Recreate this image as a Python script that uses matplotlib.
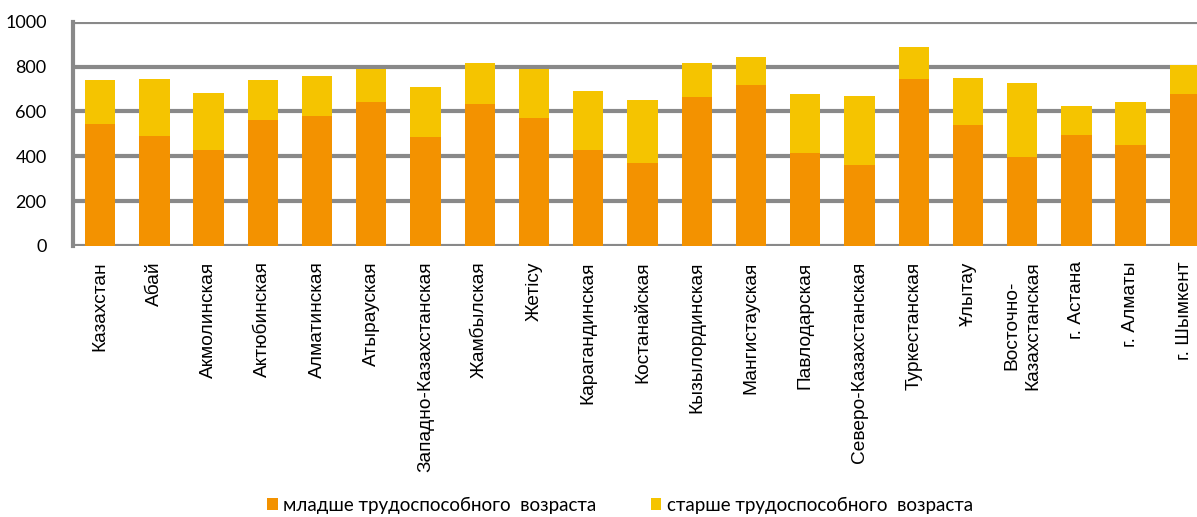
import matplotlib
matplotlib.use("Agg")
import matplotlib.pyplot as plt
import numpy as np

categories = ["Казахстан", "Абай", "Акмолинская", "Актюбинская", "Алматинская",
              "Атырауская", "Западно-Казахстанская", "Жамбылская", "Жетісу",
              "Карагандинская", "Костанайская", "Кызылординская", "Мангистауская",
              "Павлодарская", "Северо-Казахстанская", "Туркестанская", "Ұлытау",
              "Восточно-\nКазахстанская", "г. Астана", "г. Алматы", "г. Шымкент"]
younger = [545, 489, 430, 560, 578, 641, 486, 631, 572, 427, 372, 664, 716, 415,
           363, 744, 539, 397, 495, 450, 677]
total = [738, 745, 680, 741, 756, 790, 711, 815, 787, 689, 650, 818, 843, 676,
         668, 886, 748, 726, 622, 641, 809]
older = [t - y for t, y in zip(total, younger)]
series_names = ["младше трудоспособного  возраста", "старше трудоспособного  возраста"]
yticks = [0, 200, 400, 600, 800, 1000]

c_young = "#F39200"
c_old = "#F5C400"
grid_c = "#898989"

W, H = 1197, 517
fig = plt.figure(figsize=(W / 100, H / 100), dpi=100)

# main axes (extends slightly past the right edge like the reference)
left_px, right_px = 73, 1212
bot_px, top_px = 246, 21.7
ax = fig.add_axes([left_px / W, (H - bot_px) / H, (right_px - left_px) / W, (bot_px - top_px) / H])
x = np.arange(len(categories))
b1 = ax.bar(x, younger, width=0.56, color=c_young, zorder=2, label=series_names[0])
b2 = ax.bar(x, older, bottom=younger, width=0.56, color=c_old, zorder=2, label=series_names[1])
ax.set_xlim(-0.5, len(categories) - 0.5)
ax.set_ylim(0, 1000)
ax.set_yticks(yticks)
ax.set_yticklabels([str(v) for v in yticks], fontsize=13, family=["Lato", "DejaVu Sans"])
ax.tick_params(axis="y", length=0, pad=19)
ax.set_xticks(x)
ax.set_xticklabels(categories, rotation=90, fontsize=13.8,
                   family=["Liberation Sans", "DejaVu Sans"], va="top", ha="center",
                   linespacing=1.3)
ax.tick_params(axis="x", length=0, pad=11)
for v in yticks:
    ax.axhline(v, color=grid_c, lw=3.0, zorder=1, solid_capstyle="butt")
for s in ["top", "right", "bottom"]:
    ax.spines[s].set_visible(False)
ax.spines["left"].set_color(grid_c)
ax.spines["left"].set_linewidth(3.0)
ax.spines["left"].set_zorder(3)

leg = fig.legend(handles=[b1, b2], labels=series_names, loc="center",
                 bbox_to_anchor=(620 / W, (H - 505) / H), ncol=2, frameon=False,
                 prop={"family": ["Lato", "DejaVu Sans"], "size": 13.5},
                 handlelength=0.55, handleheight=0.55, handletextpad=0.3,
                 columnspacing=2.9, borderpad=0, borderaxespad=0)

fig.savefig("out.png", dpi=100)
